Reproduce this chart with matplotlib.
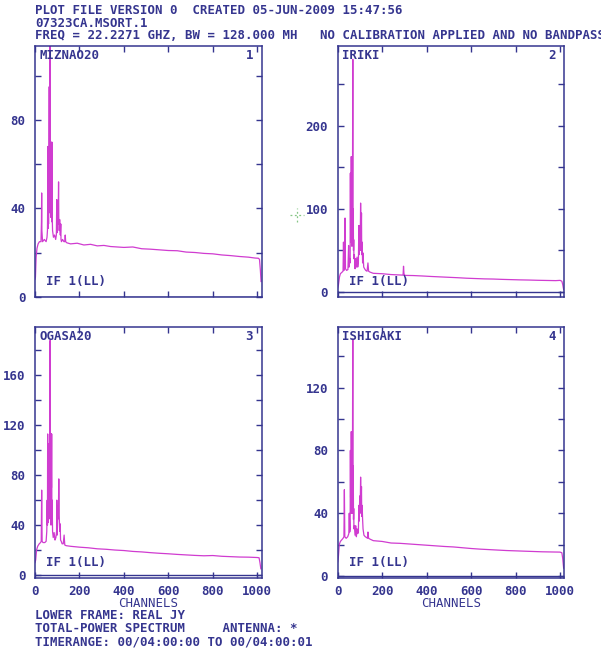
import matplotlib
matplotlib.use('Agg')
import matplotlib.pyplot as plt
from matplotlib.ticker import MultipleLocator

NAVY = '#35358f'
MAGENTA = '#d03cd0'

plt.rcParams['font.family'] = ['DejaVu Sans Mono']
plt.rcParams['font.weight'] = 'bold'
plt.rcParams['font.size'] = 8.9

ant_names = ['MIZNAO20', 'IRIKI', 'OGASA20', 'ISHIGAKI']

# total-power spectra, channel / amplitude (Jy)
chan_1 = [0, 2, 5, 9, 14, 20, 27, 29, 30, 31, 34, 42, 50, 54, 56, 57, 58, 59,
          60, 61, 62, 63, 64, 65, 66, 67, 68, 69, 70, 71, 72, 73, 74, 75, 76,
          77, 79, 83, 88, 93, 96, 98, 99, 101, 103, 104, 106, 107, 109, 111,
          114, 116, 117, 119, 124, 130, 134, 136, 138, 143,
          160, 190, 220, 250, 280, 310, 340, 370, 400, 440, 480, 520, 560, 600,
          640, 680, 720, 760, 800, 840, 880, 920, 960, 990, 1005, 1010, 1014, 1017]
amp_1 = [8, 9, 18, 22, 24, 25, 25, 34, 47, 30, 25, 26, 25, 27, 30, 41, 68, 31,
         52, 33, 60, 38, 95, 45, 108, 60, 120, 42, 62, 36, 70, 40, 58, 34, 70,
         38, 30, 27, 28, 26, 28, 44, 29, 36, 40, 33, 52, 36, 30, 35,
         28, 33, 26, 25, 26, 25, 25, 28, 25, 24.5,
         24, 24.3, 23.5, 23.8, 23.1, 23.3, 22.8, 22.6, 22.4, 22.6, 21.8, 21.6, 21.3, 21.0,
         20.9, 20.3, 20.1, 19.7, 19.5, 19.0, 18.7, 18.3, 18.0, 17.6, 17.5, 17.0, 12, 7]

chan_2 = [0, 3, 8, 12, 20, 24, 26, 28, 31, 33, 35, 40,
          46, 49, 51, 54, 56, 57, 58, 59, 60, 61, 62, 63, 64, 65, 66, 67, 68, 69,
          70, 71, 72, 73, 75,
          78, 81, 84, 87, 90, 93, 95, 97, 99, 101, 103, 105, 107, 108, 110,
          112, 114, 117, 121, 126, 132, 136, 139, 145,
          160, 200, 240, 280, 294, 296, 298, 302, 340, 380, 420, 460, 500, 540,
          580, 620, 660, 700, 740, 780, 820, 860, 900, 940, 980, 1000, 1008, 1012, 1016]
amp_2 = [5, 8, 18, 22, 24, 25, 60, 26, 40, 89, 28, 26,
         27, 56, 30, 40, 35, 143, 60, 120, 65, 163, 80, 150, 55, 100, 60, 180, 280, 70,
         100, 50, 63, 40, 45,
         28, 40, 30, 42, 30, 35, 80, 45, 80, 50, 107, 60, 95, 45, 60,
         35, 47, 30, 28, 26, 25, 35, 25, 24,
         22.5, 22, 21, 20.5, 20.3, 31, 22, 20, 19.8, 19.3, 18.7, 18.2, 17.7, 17.2,
         16.6, 16.2, 15.8, 15.6, 15.2, 14.9, 14.6, 14.4, 14.1, 13.9, 13.7, 14, 13, 9, 3]

chan_3 = [0, 3, 7, 12, 19, 25, 28, 30, 32, 36, 44, 50, 53, 55, 56, 57,
          58, 59, 60, 61, 62, 63, 64, 65, 66, 67, 68, 69, 70, 71, 72, 73, 74, 75, 76, 77,
          79, 82, 86, 90, 94, 97, 98, 100, 103, 105, 107, 109, 111, 113, 115, 118,
          122, 127, 131, 134, 140,
          160, 200, 240, 280, 320, 360, 400, 440, 480, 520, 560, 600, 640, 680,
          720, 760, 800, 840, 880, 920, 960, 1000, 1008, 1012, 1016]
amp_3 = [10, 12, 20, 23, 25, 26, 27, 68, 27, 26, 26, 27, 35, 60, 40, 113,
         50, 95, 42, 105, 60, 95, 45, 90, 70, 110, 188, 55, 95, 113, 40, 113, 70, 113, 45, 60,
         35, 30, 34, 28, 30, 35, 60, 32, 55, 45, 77, 48, 35, 41, 28, 27,
         25, 25, 32, 24, 23.5,
         23, 22.3, 21.8, 21.0, 20.6, 20.0, 19.6, 18.9, 18.5, 17.9, 17.4, 17.0, 16.5, 16.1,
         15.7, 15.4, 15.6, 15.0, 14.7, 14.4, 14.3, 14.0, 13.8, 10, 5]

chan_4 = [0, 3, 7, 12, 18, 24, 28, 30, 32, 38, 45, 50, 52, 54, 56, 57, 58, 59, 60, 61,
          62, 63, 64, 65, 66, 67, 68, 69, 70, 71, 72, 73, 75,
          78, 81, 84, 87, 90, 93, 95, 97, 99, 101, 103, 105, 107, 108, 110,
          112, 114, 118, 124, 130, 134, 136, 139, 145,
          160, 200, 240, 280, 320, 360, 400, 440, 480, 520, 560, 600, 640, 680,
          720, 760, 800, 840, 880, 920, 960, 1000, 1008, 1012, 1016]
amp_4 = [9, 12, 20, 22, 23, 24, 25, 55, 25, 24, 25, 27, 40, 28, 30, 80, 50, 70, 40, 92,
         60, 80, 40, 75, 40, 110, 151, 50, 70, 36, 43, 30, 32,
         26, 32, 25, 30, 27, 28, 45, 35, 51, 40, 63, 45, 57, 38, 45,
         36, 30, 26, 25, 24.5, 24, 28, 24, 23.5,
         22.5, 22, 21, 20.8, 20.4, 20.0, 19.6, 19.2, 18.8, 18.5, 18.0, 17.5, 17.1, 16.8,
         16.5, 16.2, 16.0, 15.8, 15.6, 15.4, 15.3, 15.2, 14.8, 11, 5]

channels = [chan_1, chan_2, chan_3, chan_4]
amps = [amp_1, amp_2, amp_3, amp_4]
y_limits = [(0, 113.4), (-6, 296), (-2.4, 198.7), (-1.3, 158.7)]
y_steps = [(40, 20), (100, 50), (40, 20), (40, 20)]

W, H = 601, 654
fig = plt.figure(figsize=(W / 100, H / 100), dpi=100)

# frame boxes in pixels: left, top, right, bottom
boxes = [(35, 46, 261.5, 297), (337.7, 46, 564.3, 297),
         (35, 327, 261.5, 578), (337.7, 327, 564.3, 578)]

for i, (l, t, r, b) in enumerate(boxes):
    ax = fig.add_axes([l / W, 1 - b / H, (r - l) / W, (b - t) / H])
    ax.plot(channels[i], amps[i], color=MAGENTA, lw=0.9)
    ax.axhline(0, color=NAVY, lw=1.0)
    ax.set_xlim(0, 1019)
    ax.set_ylim(*y_limits[i])
    ax.xaxis.set_major_locator(MultipleLocator(200))
    ax.yaxis.set_major_locator(MultipleLocator(y_steps[i][0]))
    ax.yaxis.set_minor_locator(MultipleLocator(y_steps[i][1]))
    for s in ax.spines.values():
        s.set_color(NAVY)
        s.set_linewidth(1.1)
    ax.tick_params(which='both', direction='in', length=4.5, width=1.0, color=NAVY,
                   top=True, right=True, labelcolor=NAVY, labelsize=8.9)
    ax.tick_params(axis='y', pad=7)
    ax.tick_params(axis='x', pad=5)
    if i < 2:
        ax.tick_params(axis='x', labelbottom=False)
    else:
        ax.set_xlabel('CHANNELS', color=NAVY, fontsize=8.9, labelpad=-1)

    ax.text(0.018, 0.961, ant_names[i], transform=ax.transAxes, color=NAVY,
            ha='left', va='center')
    ax.text(0.946, 0.961, str(i + 1), transform=ax.transAxes, color=NAVY,
            ha='center', va='center')
    ax.text(0.049, 0.06, 'IF 1(LL)', transform=ax.transAxes, color=NAVY,
            ha='left', va='center')

header = ['PLOT FILE VERSION 0  CREATED 05-JUN-2009 15:47:56',
          '07323CA.MSORT.1',
          'FREQ = 22.2271 GHZ, BW = 128.000 MH   NO CALIBRATION APPLIED AND NO BANDPASS']
for k, line in enumerate(header):
    fig.text(35 / W, 1 - (11 + 12.2 * k) / H, line, color=NAVY, ha='left', va='center')

footer = ['LOWER FRAME: REAL JY',
          'TOTAL-POWER SPECTRUM     ANTENNA: *',
          'TIMERANGE: 00/04:00:00 TO 00/04:00:01']
for k, line in enumerate(footer):
    fig.text(35 / W, 1 - (615.5 + 13.3 * k) / H, line, color=NAVY, ha='left', va='center')

# cursor cross
cx, cy = 297.3 / W, 1 - 215 / H
fig.add_artist(plt.Line2D([cx - 7 / W, cx + 7 / W], [cy, cy], color='#86c686',
                          lw=0.9, ls=(0, (1.5, 2))))
fig.add_artist(plt.Line2D([cx, cx], [cy - 7 / H, cy + 7 / H], color='#86c686',
                          lw=0.9, ls=(0, (1.5, 2))))

fig.savefig('out.png', dpi=100)
